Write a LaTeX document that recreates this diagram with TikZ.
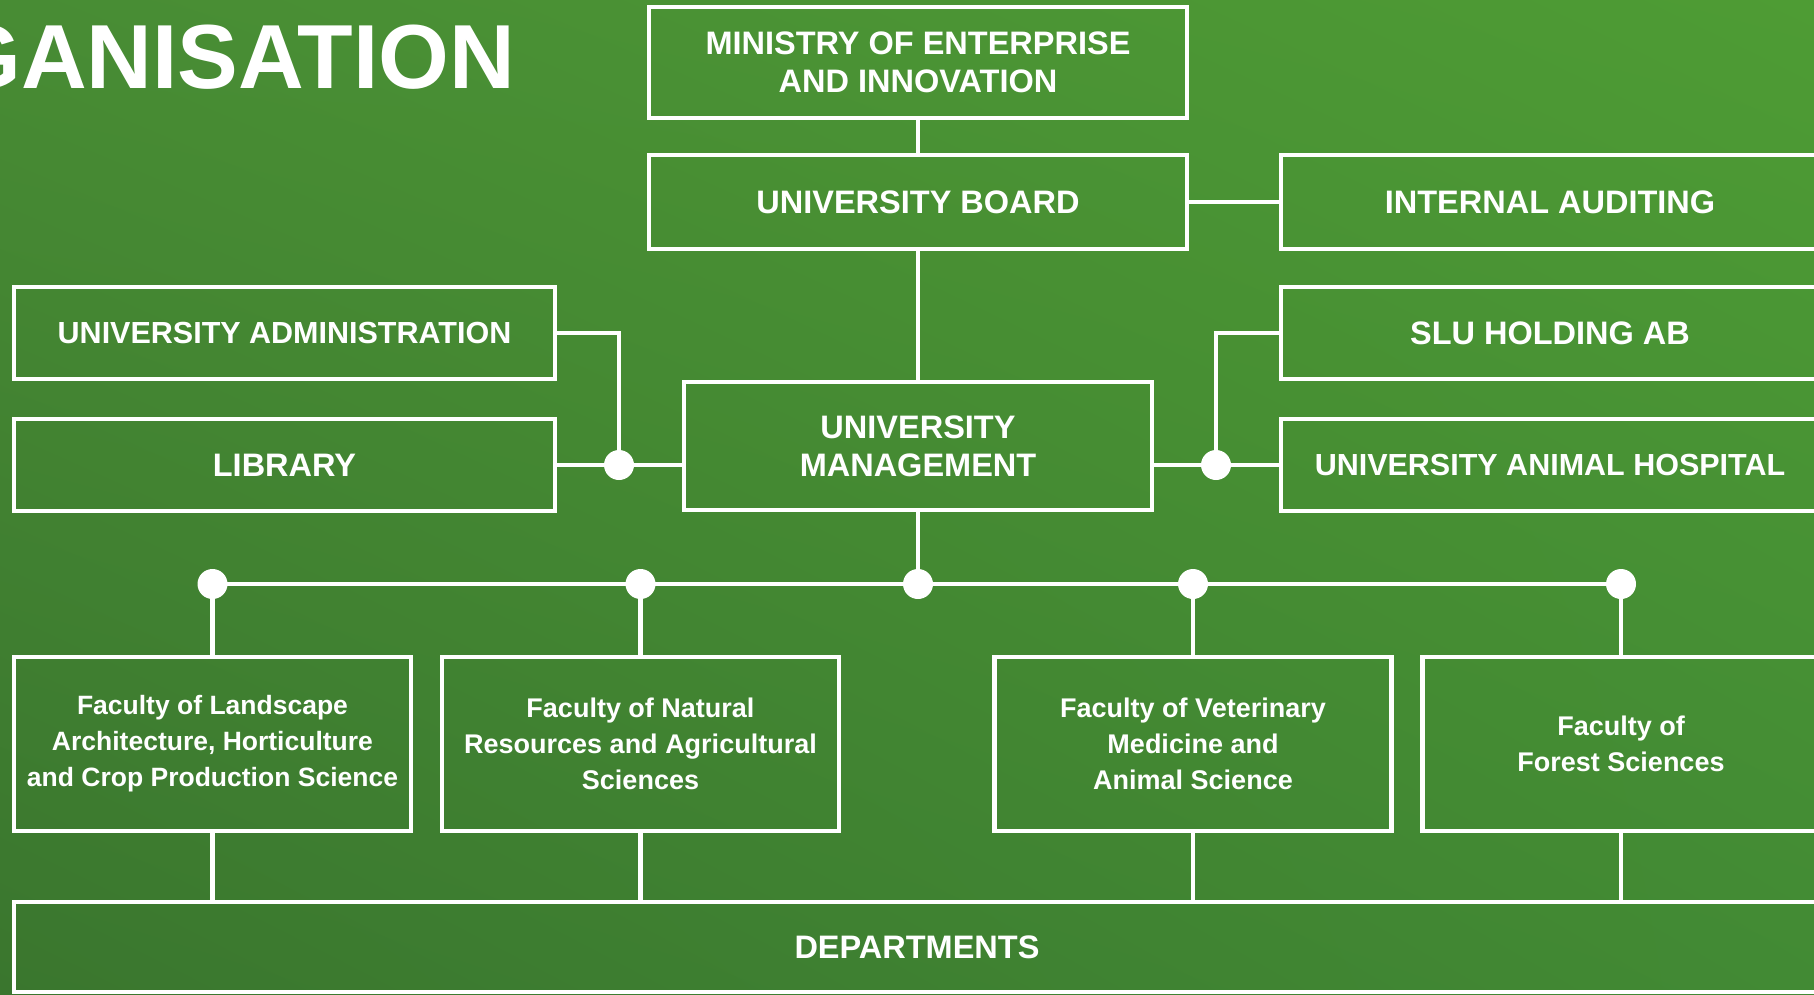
\documentclass[tikz,border=0pt]{standalone}
\usepackage{fontspec}
\setmainfont{Liberation Sans}
\usetikzlibrary{calc,shadings}
\definecolor{bgUL}{RGB}{72,140,52}
\definecolor{bgUR}{RGB}{78,156,52}
\definecolor{bgLL}{RGB}{58,118,46}
\definecolor{bgLR}{RGB}{66,138,52}
\tikzset{
  orgbox/.style={draw=white, line width=4.5pt, inner sep=0pt, text=white, align=center,
    font=\bfseries\fontsize{32.5}{38}\selectfont},
  smallorg/.style={orgbox, font=\bfseries\fontsize{30.5}{38}\selectfont},
  facbox/.style={draw=white, line width=4.5pt, inner sep=0pt, text=white, align=center,
    minimum width=397pt, minimum height=174pt, font=\bfseries\fontsize{27}{36}\selectfont},
  dotnode/.style={circle, fill=white, minimum size=30pt, inner sep=0pt},
  conn/.style={draw=white, line width=4.5pt},
}
\begin{document}
\begin{tikzpicture}[x=1pt, y=-1pt]
\useasboundingbox (0,0) rectangle (1814,995);
\clip (0,0) rectangle (1814,995);
\shade[upper left=bgUL, upper right=bgUR, lower left=bgLL, lower right=bgLR] (0,0) rectangle (1814,995);

\node[anchor=base east, text=white, inner sep=0pt, font=\bfseries\fontsize{91}{100}\selectfont] (title) at (515,89) {GANISATION};

\node[orgbox, minimum width=538pt, minimum height=111pt] (min) at (918,62.5) {MINISTRY OF ENTERPRISE\\AND INNOVATION};
\node[orgbox, minimum width=538pt, minimum height=94pt] (board) at (918,202) {UNIVERSITY BOARD};
\node[orgbox, minimum width=538pt, minimum height=94pt] (audit) at (1550,202) {INTERNAL AUDITING};
\node[smallorg, minimum width=541pt, minimum height=92pt] (admin) at (284.5,333) {UNIVERSITY ADMINISTRATION};
\node[orgbox, minimum width=541pt, minimum height=92pt] (lib) at (284.5,465) {LIBRARY};
\node[orgbox, minimum width=468pt, minimum height=128pt] (um) at (918,446) {UNIVERSITY\\MANAGEMENT};
\node[orgbox, minimum width=538pt, minimum height=92pt] (slu) at (1550,333) {SLU HOLDING AB};
\node[smallorg, minimum width=538pt, minimum height=92pt] (hosp) at (1550,465) {UNIVERSITY ANIMAL HOSPITAL};

\node[facbox, font=\bfseries\fontsize{26.5}{36}\selectfont] (fac1) at (212.5,744) {Faculty of Landscape\\Architecture, Horticulture\\and Crop Production Science};
\node[facbox] (fac2) at (640.5,744) {Faculty of Natural\\Resources and Agricultural\\Sciences};
\node[facbox] (fac3) at (1193,744) {Faculty of Veterinary\\Medicine and\\Animal Science};
\node[facbox] (fac4) at (1621,744) {Faculty of\\Forest Sciences};

\node[orgbox, minimum width=1806pt, minimum height=90pt] (dept) at (917,947) {DEPARTMENTS};

\node[dotnode] (dl) at (619,465) {};
\node[dotnode] (dr) at (1216,465) {};
\node[dotnode] (b1) at (212.5,584) {};
\node[dotnode] (b2) at (640.5,584) {};
\node[dotnode] (b3) at (918,584) {};
\node[dotnode] (b4) at (1193,584) {};
\node[dotnode] (b5) at (1621,584) {};

\draw[conn] (min.south) -- (board.north);
\draw[conn] (board.east) -- (audit.west);
\draw[conn] (board.south) -- (um.north);
\draw[conn] (admin.east) -| (dl.center);
\draw[conn] (lib.east) -- (dl.center) -- (dl.center -| um.west);
\draw[conn] (slu.west) -| (dr.center);
\draw[conn] (dr.center -| um.east) -- (dr.center) -- (hosp.west);
\draw[conn] (um.south) -- (b3.center);
\draw[conn] (b1.center) -- (b5.center);
\draw[conn] (b1.center) -- (fac1.north);
\draw[conn] (b2.center) -- (fac2.north);
\draw[conn] (b4.center) -- (fac3.north);
\draw[conn] (b5.center) -- (fac4.north);
\draw[conn] (fac1.south) -- (fac1.south |- dept.north);
\draw[conn] (fac2.south) -- (fac2.south |- dept.north);
\draw[conn] (fac3.south) -- (fac3.south |- dept.north);
\draw[conn] (fac4.south) -- (fac4.south |- dept.north);
\end{tikzpicture}
\end{document}
